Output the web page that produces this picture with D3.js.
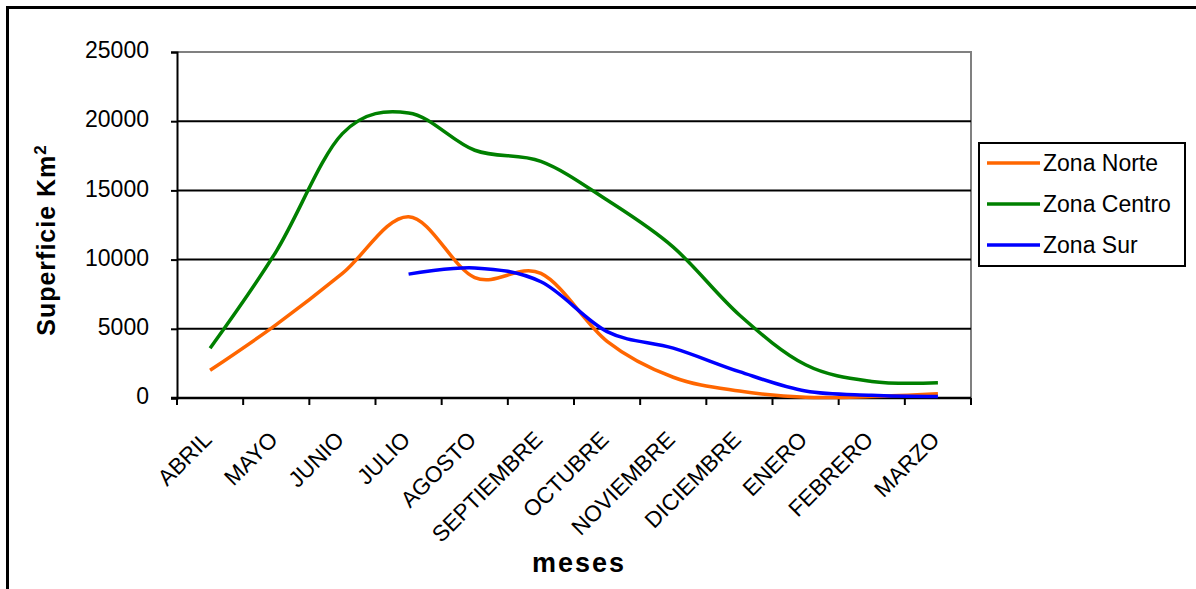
<!DOCTYPE html>
<html lang="es">
<head>
<meta charset="UTF-8">
<title>Superficie por zona</title>
<script src="https://d3js.org/d3.v7.min.js"></script>
<style>
  body { margin: 0; background: #fff; }
  text { font-family: Arial, "Liberation Sans", sans-serif; fill: #000; }
</style>
</head>
<body>
<svg id="chart" width="1196" height="589"></svg>
<script>
// month categories and series (km2)
const meses = ["ABRIL", "MAYO", "JUNIO", "JULIO", "AGOSTO", "SEPTIEMBRE",
  "OCTUBRE", "NOVIEMBRE", "DICIEMBRE", "ENERO", "FEBRERO", "MARZO"]
const zonaNorte = [2000, 5300, 9000, 13100, 8700, 9000, 4100, 1500, 500, 50, 100, 300]
const zonaCentro = [3600, 10600, 19100, 20600, 17900, 17100, 14300, 10900, 6000, 2400, 1200, 1100]
const zonaSur = [null, null, null, 8950, 9400, 8400, 4800, 3600, 1900, 500, 200, 100]
const yTicks = [0, 5000, 10000, 15000, 20000, 25000]

const series = [
  {name: "Zona Norte", values: zonaNorte, color: "#ff6600"},
  {name: "Zona Centro", values: zonaCentro, color: "#008000"},
  {name: "Zona Sur", values: zonaSur, color: "#0000ff"}
]

const svg = d3.select("#chart")
const plotL = 177, plotR = 971, plotT = 52, plotB = 398

// outer chart border
svg.append("rect").attr("x", 7.5).attr("y", 7.5).attr("width", 1200).attr("height", 600)
  .attr("fill", "none").attr("stroke", "#000").attr("stroke-width", 3)

const x = d3.scaleBand().domain(meses).range([plotL, plotR])
const y = d3.scaleLinear().domain([0, 25000]).range([plotB, plotT])
const cx = m => x(m) + x.bandwidth() / 2

// plot area border (gray top / right)
svg.append("path")
  .attr("d", `M${plotL},${plotT}H${plotR}V${plotB}`)
  .attr("fill", "none").attr("stroke", "#808080").attr("stroke-width", 2)

// gridlines
svg.append("g").selectAll("line")
  .data(yTicks.filter(t => t > 0 && t < 25000)).enter()
  .append("line")
  .attr("x1", plotL).attr("x2", plotR)
  .attr("y1", d => y(d)).attr("y2", d => y(d))
  .attr("stroke", "#000").attr("stroke-width", 2)

// y axis
const yAxis = d3.axisLeft(y).tickValues(yTicks).tickFormat(d3.format("d"))
  .tickSize(6).tickPadding(22)
const yG = svg.append("g").attr("transform", `translate(${plotL},0)`).call(yAxis)
yG.select(".domain").attr("stroke", "#000").attr("stroke-width", 2)
yG.selectAll(".tick line").attr("stroke", "#000").attr("stroke-width", 2)
yG.selectAll(".tick text").attr("font-size", 23).attr("dy", "0.25em")
  .style("font-family", "Arial, 'Liberation Sans', sans-serif")

// x axis: ticks between categories, labels at centers
const xG = svg.append("g")
xG.append("line").attr("x1", plotL - 6).attr("x2", plotR)
  .attr("y1", plotB).attr("y2", plotB).attr("stroke", "#000").attr("stroke-width", 2.5)
xG.selectAll(".xt").data(meses.map(m => x(m)).concat([plotR])).enter()
  .append("line").attr("class", "xt")
  .attr("x1", d => d).attr("x2", d => d)
  .attr("y1", plotB).attr("y2", plotB + 7)
  .attr("stroke", "#000").attr("stroke-width", 2)
xG.selectAll(".xl").data(meses).enter()
  .append("text").attr("class", "xl")
  .attr("transform", d => `translate(${cx(d) + 3},${plotB + 43}) rotate(-45)`)
  .attr("text-anchor", "end")
  .attr("font-size", 22.5)
  .text(d => d)

// lines
const line = d3.line()
  .defined(d => d.v !== null)
  .x(d => cx(d.m))
  .y(d => y(d.v))
  .curve(d3.curveCatmullRom.alpha(0))

svg.append("g").selectAll("path")
  .data(series).enter()
  .append("path")
  .attr("d", s => line(s.values.map((v, i) => ({m: meses[i], v: v}))))
  .attr("fill", "none")
  .attr("stroke", s => s.color)
  .attr("stroke-width", 3.5)
  .attr("stroke-linejoin", "round")

// axis titles
svg.append("text")
  .attr("transform", "translate(55,240) rotate(-90)")
  .attr("text-anchor", "middle")
  .attr("font-size", 25).attr("font-weight", "bold")
  .attr("letter-spacing", 1)
  .html("Superficie Km<tspan dy='-9' font-size='17'>2</tspan>")

svg.append("text")
  .attr("x", 579).attr("y", 572)
  .attr("text-anchor", "middle")
  .attr("font-size", 27).attr("font-weight", "bold")
  .attr("letter-spacing", 2)
  .text("meses")

// legend
const lg = svg.append("g")
lg.append("rect").attr("x", 979).attr("y", 143).attr("width", 206).attr("height", 123)
  .attr("fill", "#fff").attr("stroke", "#000").attr("stroke-width", 2)
const items = lg.selectAll(".li").data(series).enter()
  .append("g").attr("class", "li")
  .attr("transform", (d, i) => `translate(0,${163 + i * 41})`)
items.append("line").attr("x1", 987).attr("x2", 1040)
  .attr("stroke", d => d.color).attr("stroke-width", 3.5)
items.append("text").attr("x", 1043).attr("y", 8)
  .attr("font-size", 23)
  .text(d => d.name)
</script>
</body>
</html>
